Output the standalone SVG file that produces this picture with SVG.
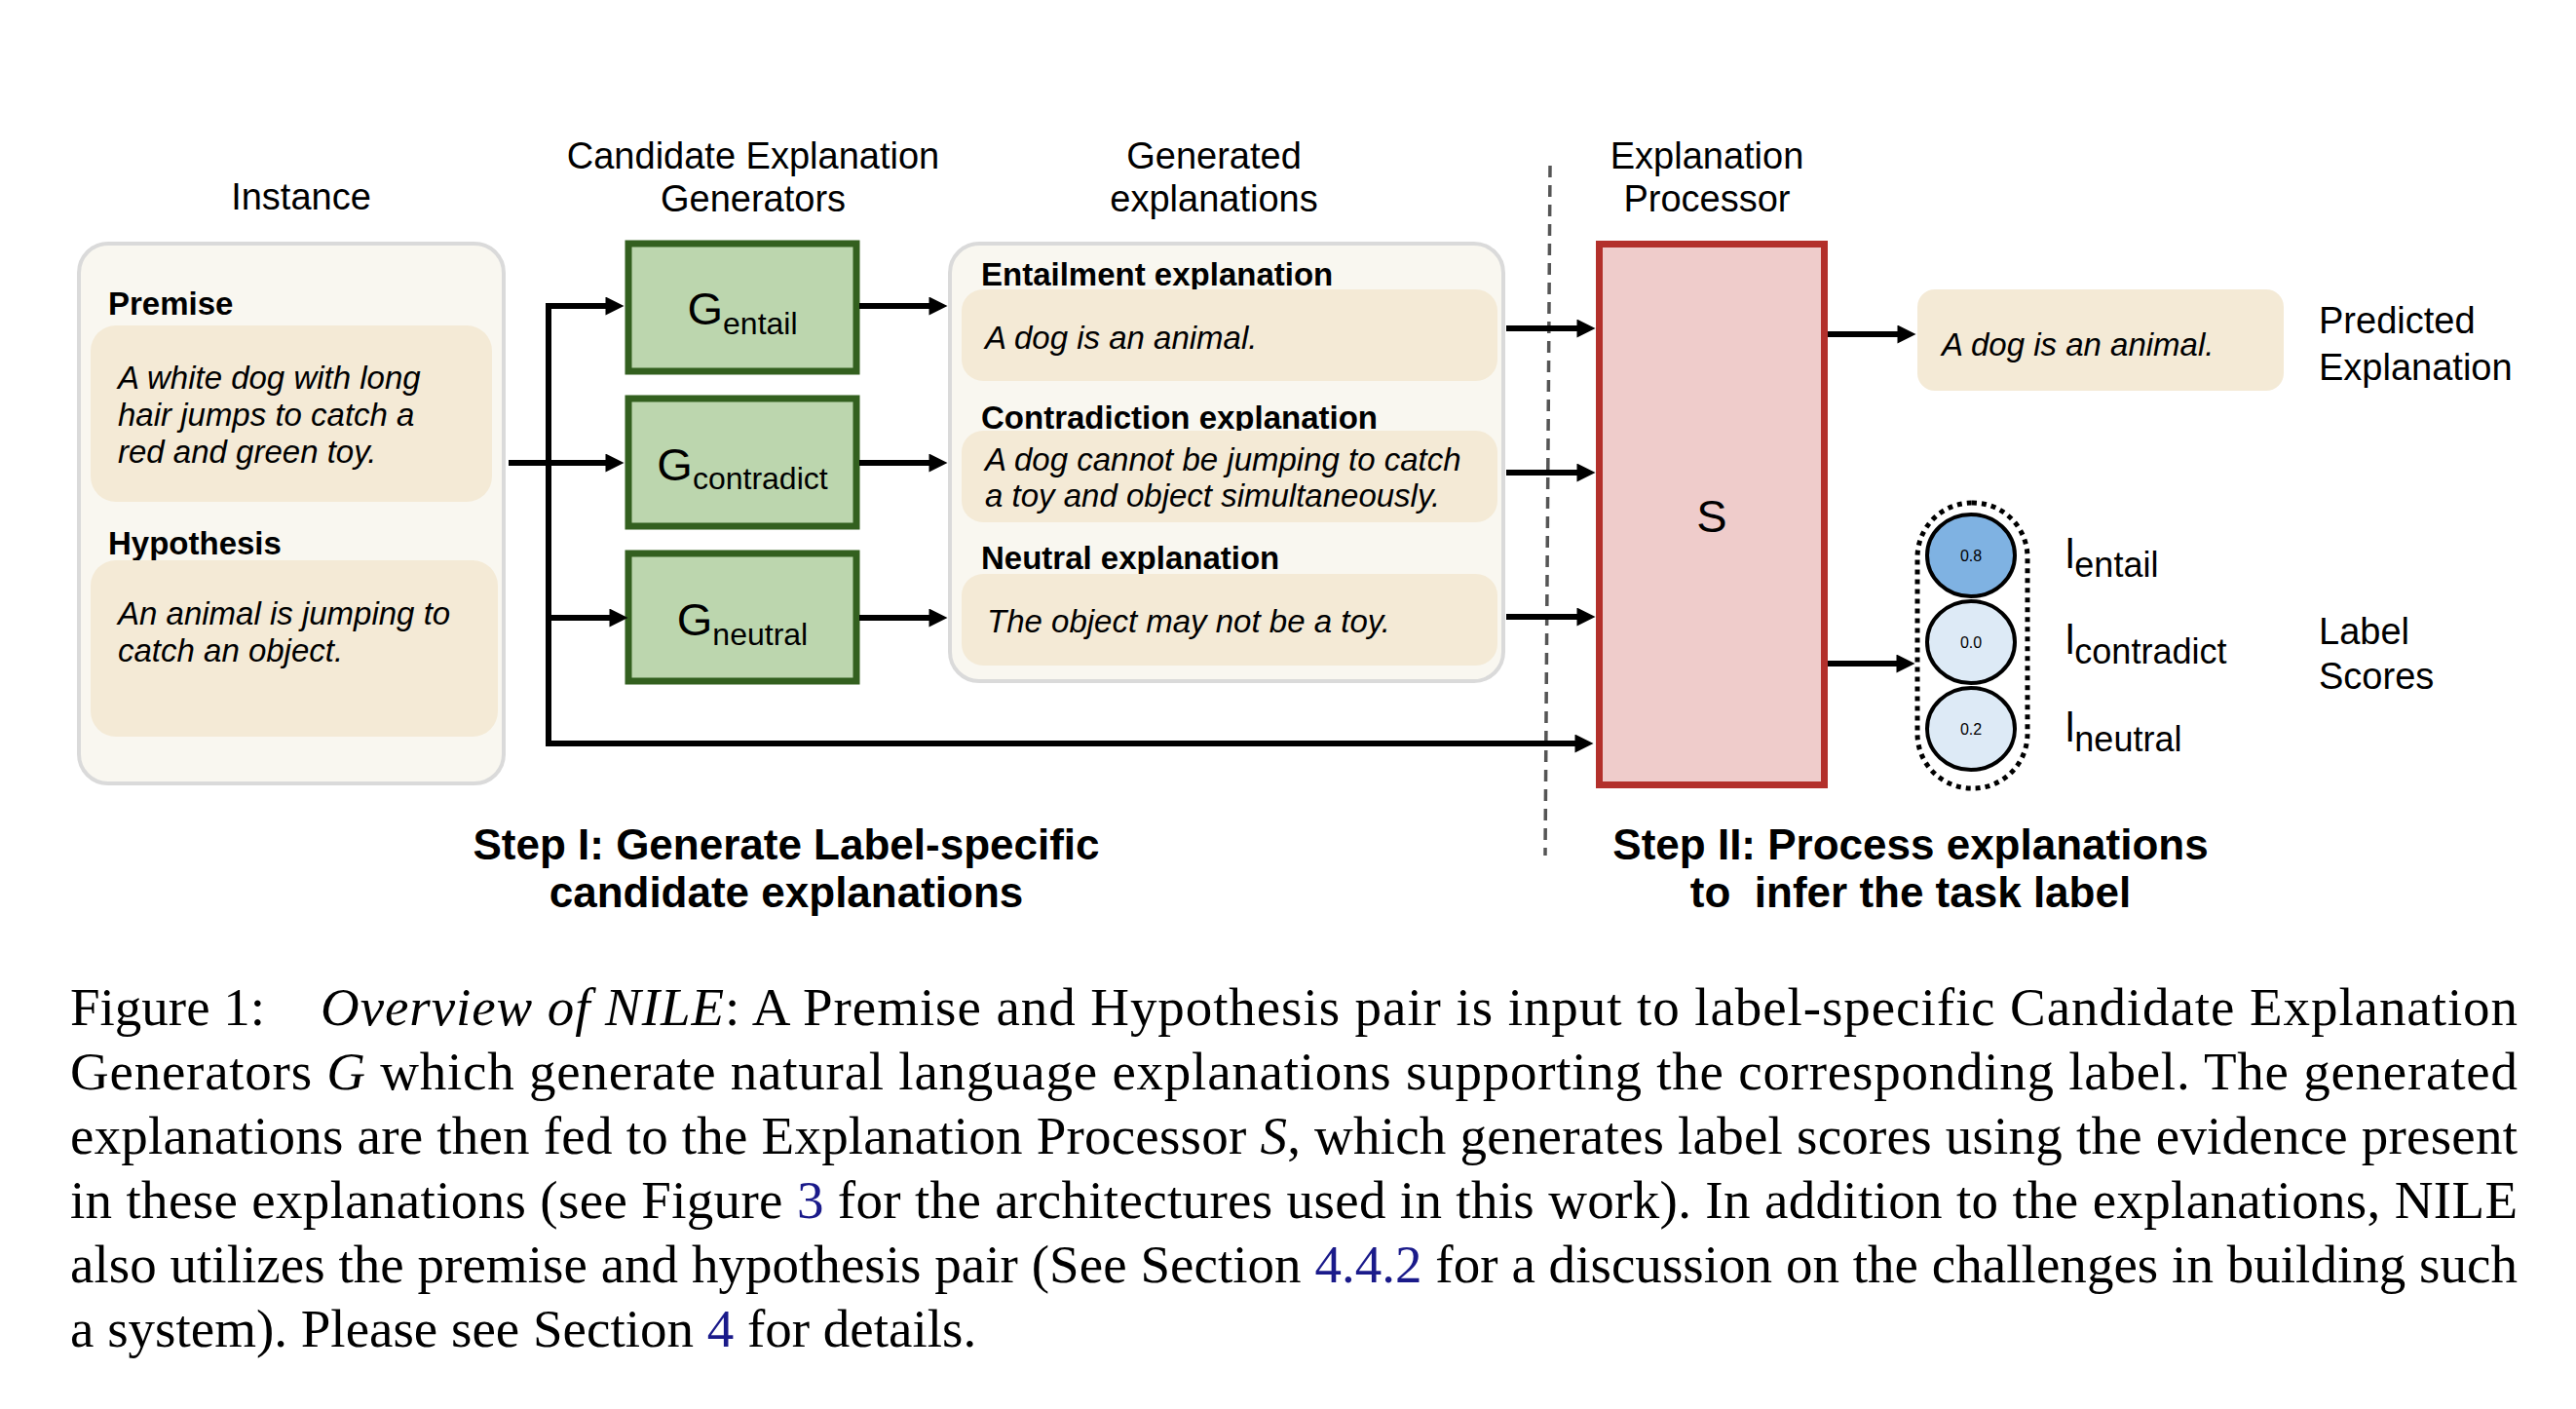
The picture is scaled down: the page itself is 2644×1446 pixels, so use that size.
<svg xmlns="http://www.w3.org/2000/svg" width="2644" height="1446" viewBox="0 0 2644 1446">
<style>
.hdr{font-family:"Liberation Sans",Arial,sans-serif;font-size:38px;fill:#000}
.b32{font-family:"Liberation Sans",Arial,sans-serif;font-size:33px;font-weight:bold;fill:#000}
.i32{font-family:"Liberation Sans",Arial,sans-serif;font-size:33px;font-style:italic;fill:#000}
.gtx{font-family:"Liberation Sans",Arial,sans-serif;font-size:47px;fill:#000}
.ltx{font-family:"Liberation Sans",Arial,sans-serif;font-size:42px;fill:#000}
.num{font-family:"Liberation Sans",Arial,sans-serif;font-size:16px;fill:#000}
.step{font-family:"Liberation Sans",Arial,sans-serif;font-size:44px;font-weight:bold;fill:#000}
.cap{font-family:"Liberation Serif","Times New Roman",serif;font-size:55px;fill:#000}
.it{font-style:italic}
.lnk{fill:#1a1a8a}
.outer{fill:#f9f7f0;stroke:#dadada;stroke-width:4}
.inner{fill:#f4ead6}
.gbox{fill:#bcd6ae;stroke:#33601f;stroke-width:7}
.sbox{fill:#efcccb;stroke:#b3302b;stroke-width:7}
.conn{fill:none;stroke:#000;stroke-width:6}
</style>
<defs>
<marker id="ah" markerUnits="userSpaceOnUse" viewBox="0 0 20 20" refX="10" refY="10" markerWidth="20" markerHeight="19" orient="auto">
<path d="M0,0 L20,10 L0,20 z" fill="#000"/>
</marker>
</defs>
<rect width="2644" height="1446" fill="#fff"/>

<!-- headers -->
<g id="headers">
<text class="hdr" x="309" y="215" text-anchor="middle">Instance</text>
<text class="hdr" x="773" y="173" text-anchor="middle">Candidate Explanation</text>
<text class="hdr" x="773" y="217" text-anchor="middle">Generators</text>
<text class="hdr" x="1246" y="173" text-anchor="middle">Generated</text>
<text class="hdr" x="1246" y="217" text-anchor="middle">explanations</text>
<text class="hdr" x="1752" y="173" text-anchor="middle">Explanation</text>
<text class="hdr" x="1752" y="217" text-anchor="middle">Processor</text>
</g>

<!-- divider -->
<line x1="1591" y1="170" x2="1586" y2="878" stroke="#555" stroke-width="3.5" stroke-dasharray="12 8"/>

<!-- instance -->
<g id="instance">
<rect class="outer" x="81" y="250" width="436" height="554" rx="30"/>
<text class="b32" x="111" y="323">Premise</text>
<rect class="inner" x="93" y="334" width="412" height="181" rx="26"/>
<text class="i32" x="121" y="399">A white dog with long</text>
<text class="i32" x="121" y="437">hair jumps to catch a</text>
<text class="i32" x="121" y="475">red and green toy.</text>
<text class="b32" x="111" y="569">Hypothesis</text>
<rect class="inner" x="93" y="575" width="418" height="181" rx="26"/>
<text class="i32" x="121" y="641">An animal is jumping to</text>
<text class="i32" x="121" y="679">catch an object.</text>
</g>

<!-- generators -->
<g id="g-entail">
<rect class="gbox" x="645" y="250" width="234" height="131"/>
<text class="gtx" x="762" y="333" text-anchor="middle">G<tspan font-size="32" dy="10">entail</tspan></text>
</g>
<g id="g-contradict">
<rect class="gbox" x="645" y="409" width="234" height="131"/>
<text class="gtx" x="762" y="493" text-anchor="middle">G<tspan font-size="32" dy="9">contradict</tspan></text>
</g>
<g id="g-neutral">
<rect class="gbox" x="645" y="568" width="234" height="131"/>
<text class="gtx" x="762" y="652" text-anchor="middle">G<tspan font-size="32" dy="10">neutral</tspan></text>
</g>

<!-- generated explanations -->
<g id="generated">
<rect class="outer" x="975" y="250" width="568" height="449" rx="30"/>
<text class="b32" x="1007" y="293">Entailment explanation</text>
<rect class="inner" x="987" y="297" width="550" height="94" rx="22"/>
<text class="i32" x="1011" y="358">A dog is an animal.</text>
<text class="b32" x="1007" y="440">Contradiction explanation</text>
<rect class="inner" x="987" y="442" width="550" height="94" rx="22"/>
<text class="i32" x="1011" y="483">A dog cannot be jumping to catch</text>
<text class="i32" x="1011" y="520">a toy and object simultaneously.</text>
<text class="b32" x="1007" y="584">Neutral explanation</text>
<rect class="inner" x="987" y="589" width="550" height="94" rx="22"/>
<text class="i32" x="1013" y="649">The object may not be a toy.</text>
</g>

<!-- processor -->
<g id="processor">
<rect class="sbox" x="1641.5" y="250.5" width="231" height="555"/>
<text class="gtx" x="1757" y="546" text-anchor="middle" font-size="48">S</text>
</g>

<!-- predicted explanation -->
<g id="predicted">
<rect class="inner" x="1968" y="297" width="376" height="104" rx="18"/>
<text class="i32" x="1993" y="365">A dog is an animal.</text>
<text class="hdr" x="2380" y="342">Predicted</text>
<text class="hdr" x="2380" y="390">Explanation</text>
</g>

<!-- label scores -->
<g id="scores">
<rect x="1968" y="516" width="113" height="293" rx="56" fill="none" stroke="#000" stroke-width="5" stroke-dasharray="5 5"/>
<ellipse cx="2023" cy="570" rx="45" ry="42" fill="#7fb2e2" stroke="#000" stroke-width="4"/>
<text class="num" x="2023" y="576" text-anchor="middle">0.8</text>
<ellipse cx="2023" cy="659" rx="45" ry="42" fill="#ddeaf6" stroke="#000" stroke-width="4"/>
<text class="num" x="2023" y="665" text-anchor="middle">0.0</text>
<ellipse cx="2023" cy="748" rx="45" ry="42" fill="#ddeaf6" stroke="#000" stroke-width="4"/>
<text class="num" x="2023" y="754" text-anchor="middle">0.2</text>
<text class="ltx" x="2120" y="583">l<tspan font-size="36" dy="9">entail</tspan></text>
<text class="ltx" x="2120" y="671">l<tspan font-size="36" dy="10">contradict</tspan></text>
<text class="ltx" x="2120" y="761">l<tspan font-size="36" dy="10">neutral</tspan></text>
<text class="hdr" x="2380" y="661">Label</text>
<text class="hdr" x="2380" y="707">Scores</text>
</g>

<!-- connectors -->
<g id="connectors" class="conn">
<path d="M522,475 H631" marker-end="url(#ah)"/>
<path d="M563,314 V763"/>
<path d="M560,314 H631" marker-end="url(#ah)"/>
<path d="M563,634 H635" marker-end="url(#ah)"/>
<path d="M560,763 H1626" marker-end="url(#ah)"/>
<path d="M882,314 H963" marker-end="url(#ah)"/>
<path d="M882,475 H963" marker-end="url(#ah)"/>
<path d="M882,634 H963" marker-end="url(#ah)"/>
<path d="M1546,337 H1628" marker-end="url(#ah)"/>
<path d="M1546,485 H1628" marker-end="url(#ah)"/>
<path d="M1546,633 H1628" marker-end="url(#ah)"/>
<path d="M1876,343 H1957" marker-end="url(#ah)"/>
<path d="M1876,681 H1956" marker-end="url(#ah)"/>
</g>

<!-- step labels -->
<g id="steps">
<text class="step" x="807" y="882" text-anchor="middle">Step I: Generate Label-specific</text>
<text class="step" x="807" y="931" text-anchor="middle">candidate explanations</text>
<text class="step" x="1961" y="882" text-anchor="middle">Step II: Process explanations</text>
<text class="step" x="1961" y="931" text-anchor="middle" xml:space="preserve">to  infer the task label</text>
</g>

<!-- caption -->
<g id="caption">
<text class="cap" x="72" y="1052">Figure 1:</text>
<text class="cap" x="329" y="1052" textLength="2255" lengthAdjust="spacing"><tspan class="it">Overview of NILE</tspan>: A Premise and Hypothesis pair is input to label-specific Candidate Explanation</text>
<text class="cap" x="72" y="1118" textLength="2512" lengthAdjust="spacing">Generators <tspan class="it">G</tspan> which generate natural language explanations supporting the corresponding label. The generated</text>
<text class="cap" x="72" y="1184" textLength="2512" lengthAdjust="spacing">explanations are then fed to the Explanation Processor <tspan class="it">S</tspan>, which generates label scores using the evidence present</text>
<text class="cap" x="72" y="1250" textLength="2512" lengthAdjust="spacing">in these explanations (see Figure <tspan class="lnk">3</tspan> for the architectures used in this work). In addition to the explanations, NILE</text>
<text class="cap" x="72" y="1316" textLength="2512" lengthAdjust="spacing">also utilizes the premise and hypothesis pair (See Section <tspan class="lnk">4.4.2</tspan> for a discussion on the challenges in building such</text>
<text class="cap" x="72" y="1382">a system). Please see Section <tspan class="lnk">4</tspan> for details.</text>
</g>
</svg>
